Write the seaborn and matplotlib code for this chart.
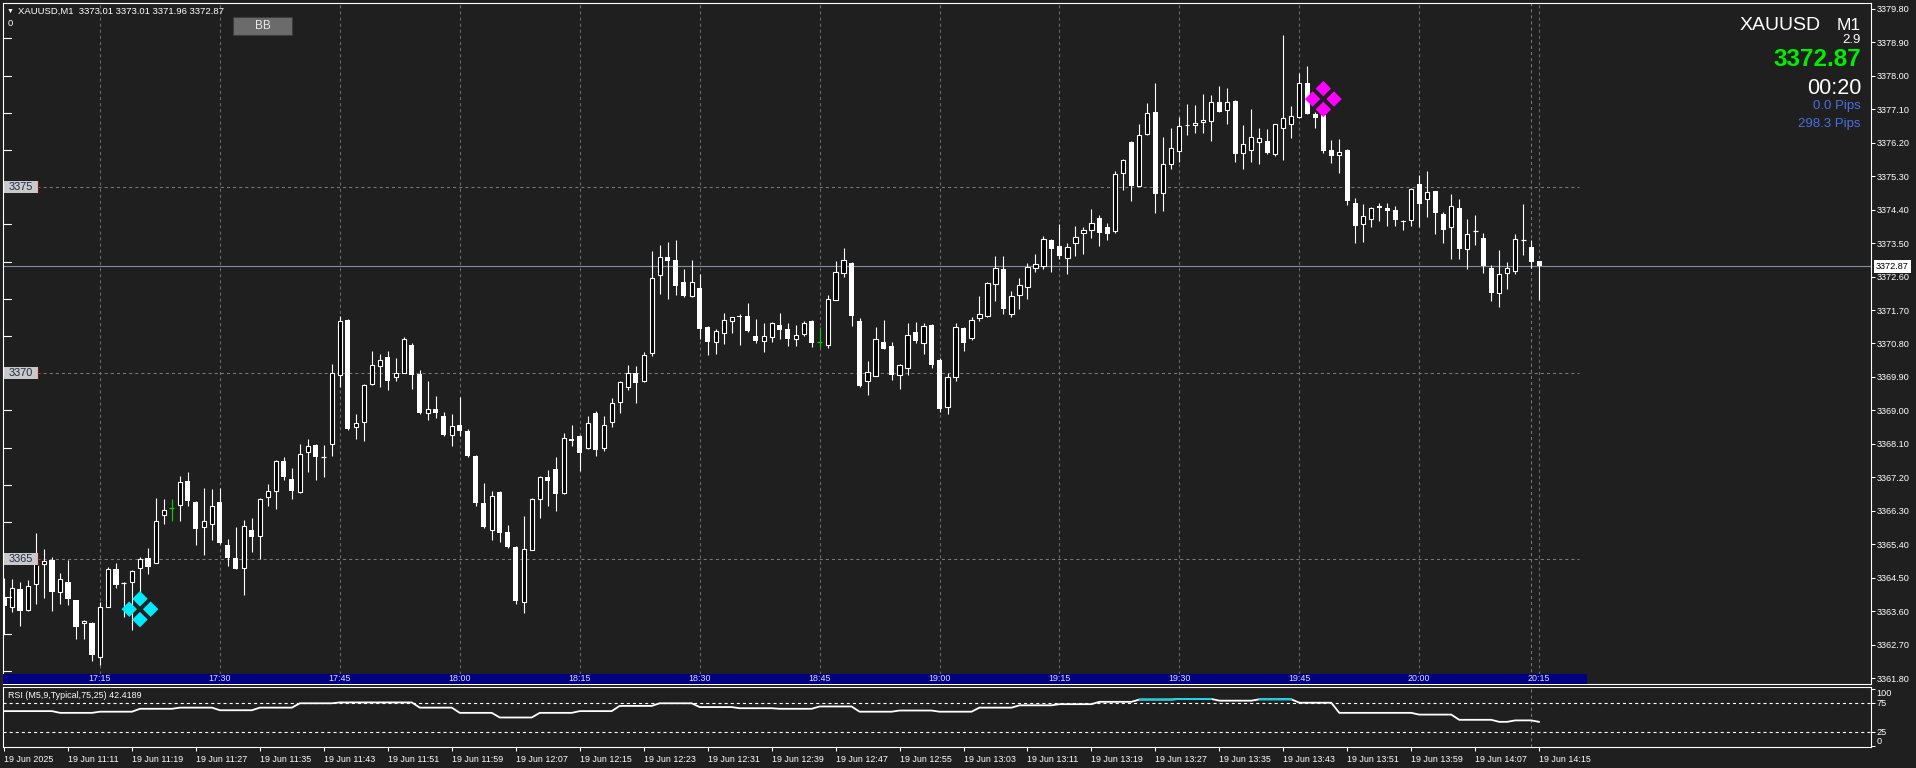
import numpy as np
import pandas as pd
import matplotlib
matplotlib.use("Agg")
import matplotlib.pyplot as plt
import seaborn as sns
from matplotlib.patches import Rectangle
from matplotlib import transforms

# ---------------- data ----------------
symbol = "XAUUSD"
timeframe = "M1"
first_bar = "2025-06-19 17:03"

opens = [
    3364.00, 3363.73, 3364.21, 3363.64, 3364.35, 3364.88, 3364.97, 3364.13, 3364.38, 3363.90,
    3363.28, 3363.30, 3362.37, 3363.73, 3364.73, 3364.37, 3364.40, 3364.78, 3365.04, 3364.91,
    3366.19, 3366.38, 3366.46, 3367.10, 3366.54, 3365.88, 3365.96, 3366.53, 3365.39, 3365.04,
    3364.78, 3365.79, 3365.63, 3366.68, 3366.83, 3367.64, 3367.16, 3366.80, 3367.88, 3368.07,
    3367.74, 3368.09, 3369.95, 3371.43, 3368.56, 3368.69, 3369.71, 3370.20, 3370.44, 3369.89,
    3370.02, 3370.76, 3369.98, 3368.93, 3369.05, 3368.86, 3368.34, 3368.62, 3368.46, 3367.79,
    3366.51, 3365.78, 3366.80, 3365.73, 3365.33, 3363.85, 3365.26, 3366.63, 3367.22, 3367.43,
    3366.78, 3368.24, 3368.32, 3367.99, 3368.94, 3367.99, 3368.69, 3369.22, 3369.64, 3370.00,
    3369.78, 3370.55, 3372.64, 3373.13, 3373.05, 3372.46, 3372.08, 3372.30, 3371.23, 3370.85,
    3371.09, 3371.41, 3371.55, 3371.54, 3371.00, 3370.88, 3370.98, 3371.29, 3371.19, 3370.93,
    3371.06, 3371.40, 3370.85, 3370.77, 3371.98, 3372.70, 3372.96, 3371.40, 3369.80, 3369.94,
    3370.84, 3370.73, 3369.96, 3370.13, 3371.10, 3370.82, 3371.31, 3370.36, 3369.10, 3369.90,
    3371.21, 3370.94, 3371.48, 3371.55, 3372.39, 3372.80, 3371.59, 3372.10, 3372.31, 3372.82,
    3372.89, 3373.58, 3373.42, 3373.09, 3373.49, 3373.76, 3373.84, 3374.17, 3373.92, 3373.81,
    3375.38, 3376.22, 3375.04, 3376.42, 3377.03, 3374.84, 3375.62, 3375.97, 3376.66, 3376.67,
    3376.75, 3376.77, 3377.28, 3377.07, 3377.32, 3375.91, 3375.99, 3376.21, 3376.25, 3375.88,
    3376.59, 3376.69, 3376.88, 3377.80, 3376.97, 3376.94, 3376.00, 3375.86, 3376.00, 3374.58,
    3374.01, 3374.14, 3374.49, 3374.44, 3374.38, 3374.09, 3374.13, 3375.09, 3374.68, 3374.89,
    3374.28, 3373.92, 3374.44, 3373.33, 3373.83, 3373.63, 3372.82, 3372.15, 3372.69, 3372.74,
    3373.59, 3373.39, 3373.01,
]
highs = [
    3364.51, 3364.46, 3364.38, 3364.44, 3365.71, 3365.29, 3365.07, 3364.64, 3364.97, 3363.92,
    3363.37, 3363.32, 3363.86, 3364.80, 3364.91, 3364.40, 3364.71, 3365.07, 3365.31, 3366.65,
    3366.63, 3366.61, 3367.25, 3367.35, 3366.56, 3366.92, 3366.89, 3366.92, 3365.54, 3365.88,
    3366.07, 3366.12, 3366.65, 3367.03, 3367.66, 3367.75, 3367.46, 3368.10, 3368.24, 3368.09,
    3368.06, 3370.25, 3371.53, 3371.45, 3368.91, 3369.71, 3370.60, 3370.53, 3370.61, 3370.41,
    3370.97, 3370.80, 3370.08, 3369.80, 3369.39, 3368.97, 3368.91, 3369.37, 3368.51, 3367.81,
    3367.04, 3366.83, 3366.83, 3365.92, 3365.35, 3366.17, 3366.65, 3367.24, 3367.39, 3367.75,
    3368.40, 3368.62, 3368.34, 3368.86, 3368.99, 3368.86, 3369.33, 3369.78, 3370.22, 3370.20,
    3370.56, 3373.28, 3373.46, 3373.52, 3373.59, 3372.81, 3373.05, 3372.68, 3371.27, 3371.18,
    3371.63, 3371.52, 3371.58, 3371.88, 3371.46, 3371.34, 3371.38, 3371.63, 3371.34, 3371.29,
    3371.40, 3371.42, 3371.24, 3372.09, 3373.01, 3373.36, 3372.98, 3371.49, 3370.33, 3371.25,
    3371.43, 3370.84, 3370.25, 3371.35, 3371.38, 3371.35, 3371.33, 3370.40, 3370.00, 3371.36,
    3371.25, 3371.52, 3372.08, 3372.46, 3373.15, 3373.15, 3372.20, 3372.57, 3372.97, 3373.21,
    3373.69, 3373.60, 3374.01, 3373.50, 3373.96, 3373.93, 3374.42, 3374.26, 3374.04, 3375.44,
    3375.75, 3376.24, 3376.70, 3377.27, 3377.81, 3376.35, 3376.59, 3376.88, 3377.24, 3377.21,
    3377.51, 3377.48, 3377.72, 3377.67, 3377.34, 3376.68, 3377.11, 3376.59, 3376.57, 3376.71,
    3379.10, 3377.19, 3378.06, 3378.26, 3377.03, 3376.96, 3376.27, 3376.30, 3376.02, 3374.70,
    3374.55, 3374.48, 3374.57, 3374.57, 3374.50, 3374.12, 3374.97, 3375.33, 3375.44, 3374.91,
    3374.33, 3374.82, 3374.68, 3374.14, 3374.25, 3373.76, 3372.91, 3373.32, 3372.98, 3373.74,
    3374.55, 3373.58, 3373.01,
]
lows = [
    3362.99, 3363.59, 3363.21, 3363.60, 3363.79, 3363.95, 3363.62, 3363.79, 3363.77, 3362.86,
    3362.86, 3362.28, 3362.16, 3363.71, 3364.24, 3363.46, 3363.11, 3364.11, 3364.60, 3364.89,
    3365.96, 3366.03, 3366.04, 3366.43, 3365.38, 3365.12, 3365.52, 3365.42, 3364.82, 3364.73,
    3364.04, 3365.20, 3365.02, 3366.43, 3366.34, 3367.14, 3366.61, 3366.78, 3367.34, 3367.12,
    3367.21, 3367.77, 3369.64, 3368.48, 3368.24, 3368.17, 3369.69, 3369.64, 3369.55, 3369.80,
    3370.00, 3369.59, 3368.90, 3368.75, 3368.81, 3368.31, 3368.04, 3368.31, 3367.75, 3366.43,
    3365.85, 3365.53, 3365.47, 3365.30, 3363.80, 3363.55, 3365.24, 3366.10, 3366.43, 3366.30,
    3366.76, 3368.04, 3367.37, 3367.97, 3367.77, 3367.91, 3368.55, 3368.93, 3369.54, 3369.21,
    3369.76, 3370.47, 3372.13, 3371.99, 3372.10, 3372.06, 3372.05, 3370.92, 3370.49, 3370.52,
    3370.79, 3371.09, 3370.76, 3371.11, 3370.82, 3370.57, 3370.84, 3370.92, 3370.73, 3370.73,
    3371.00, 3370.71, 3370.69, 3370.69, 3371.96, 3372.59, 3371.27, 3369.64, 3369.42, 3369.92,
    3370.64, 3369.82, 3369.58, 3369.96, 3370.82, 3370.52, 3370.15, 3368.95, 3368.90, 3369.80,
    3370.60, 3370.90, 3371.41, 3371.51, 3371.94, 3371.59, 3371.50, 3371.74, 3371.99, 3372.72,
    3372.81, 3372.73, 3373.08, 3372.67, 3373.16, 3373.21, 3373.64, 3373.42, 3373.58, 3373.78,
    3374.93, 3374.63, 3375.02, 3376.40, 3374.32, 3374.35, 3375.50, 3375.69, 3376.41, 3376.47,
    3376.47, 3376.25, 3377.01, 3376.71, 3375.69, 3375.50, 3375.69, 3375.63, 3375.89, 3375.84,
    3375.72, 3376.31, 3376.86, 3376.96, 3376.58, 3375.91, 3375.66, 3375.39, 3374.53, 3373.51,
    3373.54, 3373.94, 3374.08, 3373.97, 3373.97, 3373.85, 3373.97, 3373.92, 3374.21, 3373.73,
    3373.51, 3373.06, 3373.06, 3372.80, 3373.46, 3372.69, 3371.95, 3371.77, 3372.26, 3372.66,
    3373.18, 3372.82, 3371.96,
]
closes = [
    3363.75, 3364.24, 3363.62, 3364.29, 3364.94, 3364.96, 3364.13, 3364.46, 3363.93, 3363.19,
    3363.33, 3362.44, 3363.71, 3364.73, 3364.31, 3364.38, 3364.69, 3365.02, 3364.79, 3366.04,
    3366.33, 3366.38, 3367.08, 3366.56, 3365.81, 3366.04, 3366.44, 3365.44, 3365.04, 3364.75,
    3365.89, 3365.60, 3366.63, 3366.83, 3367.64, 3367.21, 3366.83, 3367.83, 3368.04, 3367.74,
    3367.75, 3370.00, 3371.40, 3368.51, 3368.66, 3369.69, 3370.21, 3370.35, 3369.78, 3370.00,
    3370.92, 3369.96, 3368.92, 3369.04, 3368.92, 3368.35, 3368.58, 3368.44, 3367.77, 3366.51,
    3365.87, 3366.71, 3365.71, 3365.34, 3363.87, 3365.29, 3366.63, 3367.22, 3367.10, 3366.75,
    3368.26, 3368.17, 3367.85, 3368.66, 3367.93, 3368.61, 3369.20, 3369.76, 3370.00, 3369.73,
    3370.48, 3372.57, 3373.13, 3373.02, 3372.35, 3372.08, 3372.44, 3371.20, 3370.85, 3371.13,
    3371.42, 3371.50, 3371.51, 3371.13, 3370.87, 3371.00, 3371.35, 3371.16, 3370.92, 3371.04,
    3371.35, 3370.82, 3370.85, 3371.99, 3372.71, 3373.05, 3371.54, 3369.67, 3370.03, 3370.91,
    3370.66, 3369.96, 3370.21, 3371.04, 3370.88, 3371.26, 3370.22, 3369.05, 3369.90, 3371.24,
    3370.80, 3371.43, 3371.59, 3372.42, 3372.82, 3371.74, 3372.07, 3372.37, 3372.85, 3372.93,
    3373.60, 3373.35, 3373.16, 3373.38, 3373.66, 3373.84, 3374.03, 3373.78, 3373.75, 3375.36,
    3375.73, 3375.04, 3376.40, 3376.99, 3374.81, 3375.62, 3376.05, 3376.64, 3376.68, 3376.72,
    3376.81, 3377.28, 3377.03, 3377.28, 3375.88, 3376.16, 3376.34, 3376.32, 3375.91, 3376.69,
    3376.85, 3376.91, 3377.80, 3376.98, 3376.87, 3375.98, 3375.85, 3375.94, 3374.64, 3373.97,
    3374.22, 3374.44, 3374.43, 3374.35, 3374.12, 3374.07, 3374.95, 3374.56, 3374.88, 3374.32,
    3373.84, 3374.49, 3373.35, 3373.74, 3373.84, 3372.89, 3372.15, 3372.66, 3372.82, 3373.60,
    3373.58, 3373.00, 3372.87,
]

# RSI(M5) as run-length: value held over number of M1 bars
rsi_values = [61, 58, 60, 65, 67, 62.5, 67, 74.5, 76, 76, 67, 58, 50, 58, 61, 70, 74.5, 68,
              66, 65, 69, 60, 62, 60, 67, 71, 73, 77, 81, 82, 79, 81.4, 75.5, 58, 55, 46,
              42.5, 45, 42.4]
rsi_runs = [7, 5, 5, 5, 5, 5, 5, 5, 5, 5, 5, 5, 5, 5, 5, 5, 5, 5,
            5, 5, 5, 5, 5, 5, 5, 5, 5, 5, 5, 5, 5, 5, 5, 10, 5, 5,
            2, 3, 1]
rsi_last = "42.4189"
rsi_levels = [75, 25]
rsi_ticks = [100, 75, 25, 0]

level_prices = [3375, 3370, 3365]
current_price = 3372.87
price_ticks = [3361.80, 3362.70, 3363.60, 3364.50, 3365.40, 3366.30, 3367.20, 3368.10,
               3369.00, 3369.90, 3370.80, 3371.70, 3372.60, 3373.50, 3374.40, 3375.30,
               3376.20, 3377.10, 3378.00, 3378.90, 3379.80]
grid_labels = ["17:15", "17:30", "17:45", "18:00", "18:15", "18:30", "18:45",
               "19:00", "19:15", "19:30", "19:45", "20:00", "20:15"]
server_labels = ["19 Jun 2025", "19 Jun 11:11", "19 Jun 11:19", "19 Jun 11:27", "19 Jun 11:35",
                 "19 Jun 11:43", "19 Jun 11:51", "19 Jun 11:59", "19 Jun 12:07", "19 Jun 12:15",
                 "19 Jun 12:23", "19 Jun 12:31", "19 Jun 12:39", "19 Jun 12:47", "19 Jun 12:55",
                 "19 Jun 13:03", "19 Jun 13:11", "19 Jun 13:19", "19 Jun 13:27", "19 Jun 13:35",
                 "19 Jun 13:43", "19 Jun 13:51", "19 Jun 13:59", "19 Jun 14:07", "19 Jun 14:15"]
signal_times = ["17:20", "19:48"]
signal_prices = [3363.66, 3377.37]
signal_colors = ["#00eaff", "#ff00ff"]
marker_line_time = "20:14"
spread = "2.9"
countdown = "00:20"
pips_lines = ["0.0 Pips", "298.3 Pips"]

# ---------------- style ----------------
BG = "#1f1f1f"
W, H = 1916, 768
sns.set_theme(style="dark", rc={"axes.facecolor": BG, "figure.facecolor": BG,
                                "axes.edgecolor": "white", "lines.scale_dashes": False})
plt.rcParams["font.family"] = ["Liberation Sans", "DejaVu Sans"]
DASH = (0, (2.2, 2.2))

fig = plt.figure(figsize=(W / 100, H / 100), dpi=100, facecolor=BG)
ax = fig.add_axes([3 / W, 1 - 684 / H, 1868 / W, 681 / H])
axr = fig.add_axes([3 / W, 1 - 747 / H, 1868 / W, 60 / H])
for a in (ax, axr):
    a.set_facecolor(BG)
    a.grid(False)
    for s in a.spines.values():
        s.set_color("white")
        s.set_linewidth(0.8)

O = np.array(opens); Hh = np.array(highs); L = np.array(lows); C = np.array(closes)
n = len(O)
idx = np.arange(n)
bar_times = pd.date_range(first_bar, periods=n, freq="min")
day = bar_times[0].strftime("%Y-%m-%d")


def pos(t):
    return int((pd.Timestamp(f"{day} {t}") - bar_times[0]) / pd.Timedelta("1min"))


XLIM = (-0.13, 233.5)
YLIM = (3361.65, 3379.95)

# ---- candles ----
flat = O == C
tiny = np.abs(C - O) < 0.015
bull = (C > O) & ~tiny
bear = (C < O) & ~tiny
wick_cols = np.where(flat, "#00d400", "white")
ax.vlines(idx, L, Hh, colors=wick_cols, lw=0.8, zorder=3)
ax.bar(idx[bull], (C - O)[bull], bottom=O[bull], width=0.52, facecolor="black",
       edgecolor="white", linewidth=0.8, zorder=4)
ax.bar(idx[bear], (O - C)[bear], bottom=C[bear], width=0.64, color="white",
       linewidth=0, zorder=4)
ax.hlines(O[tiny], idx[tiny] - 0.31, idx[tiny] + 0.31, colors=wick_cols[tiny], lw=0.9, zorder=4)

# ---- grid / lines ----
for t in grid_labels:
    ax.axvline(pos(t), ymin=0.015, ymax=1, color="#6c6c6c", lw=0.75, ls=DASH, zorder=1)
ax.axvline(pos(marker_line_time), color="#7a7a7a", lw=0.75, ls=DASH, zorder=1)
axr.axvline(pos(marker_line_time), color="#7a7a7a", lw=0.75, ls=DASH, zorder=1)
ax.axhline(current_price, color="#7d8a99", lw=0.85, zorder=2)

blend = transforms.blended_transform_factory(ax.transAxes, ax.transData)
box_w = 34 / 1868
for p in level_prices:
    ax.hlines(p, (37 - 4.06) / 7.995, 197, colors="#7a7a7a", lw=0.75, linestyles=DASH, zorder=1)
    ax.add_patch(Rectangle((0.0005, p - 0.16), box_w, 0.32, transform=blend,
                           facecolor="#c9c9c9", edgecolor="none", zorder=6))
    ax.plot([box_w + 0.0005] * 2, [p - 0.16, p + 0.16], transform=blend,
            color="#7a1010", lw=0.8, zorder=6)
    ax.text(box_w / 2 + 0.0005, p, f"{p}", transform=blend, ha="center", va="center",
            fontsize=7.8, color="#1e2a44", zorder=7)

for p in range(int(np.ceil(YLIM[0])), int(YLIM[1]) + 1):
    if p % 5:
        ax.plot([0, 8 / 1868], [p, p], transform=blend, color="white", lw=0.8, zorder=6)

# navy time bar
xt = ax.get_xaxis_transform()
ax.add_patch(Rectangle((XLIM[0], 0), 198 - XLIM[0], 0.0147, transform=xt,
                       facecolor="#000080", edgecolor="none", zorder=8))
for t in grid_labels:
    ax.text(pos(t), 0.0074, t, transform=xt, ha="center", va="center",
            fontsize=6.4, color="#dcdcf0", zorder=9)

# ---- signal diamonds ----
offsets = [(0, 7.5), (-7.7, 0), (7.7, 0), (0, -7.5)]
for t, p, col in zip(signal_times, signal_prices, signal_colors):
    for dx, dy in offsets:
        tr = transforms.offset_copy(ax.transData, fig=fig, x=dx, y=dy, units="points")
        ax.scatter([pos(t)], [p], marker="D", s=62, color=col, edgecolors="none",
                   transform=tr, zorder=7)

# ---- main axis ticks ----
ax.set_xlim(*XLIM)
ax.set_ylim(*YLIM)
ax.set_xticks([])
ax.yaxis.tick_right()
ax.set_yticks(price_ticks)
ax.set_yticklabels([f"{v:.2f}" for v in price_ticks])
ax.tick_params(axis="y", colors="white", length=3, width=0.75, labelsize=6.6, pad=1.2,
               labelcolor="white")
ax.text((1876 - 3) / 1868, current_price, f"{current_price:.2f}", transform=blend,
        ha="left", va="center", fontsize=6.6, color="black", zorder=10, clip_on=False,
        bbox=dict(boxstyle="square,pad=0.18", facecolor="white", edgecolor="none"))

# ---- RSI panel ----
rsi = np.repeat(rsi_values, rsi_runs).astype(float)
sns.lineplot(x=idx, y=rsi, ax=axr, color="white", linewidth=1.3, estimator=None, sort=False)
axr.plot(idx, np.where(rsi > 80, rsi, np.nan), color="#00d8e8", lw=1.3, zorder=3)
for lv in rsi_levels:
    axr.axhline(lv, color="white", lw=0.8, ls=DASH, zorder=1)
axr.set_xlabel("")
axr.set_ylabel("")
axr.set_xlim(*XLIM)
axr.set_ylim(-0.9, 102.6)
axr.yaxis.tick_right()
axr.set_yticks(rsi_ticks)
axr.set_yticklabels([str(v) for v in rsi_ticks])
axr.tick_params(axis="y", colors="white", length=3, width=0.75, labelsize=6.6, pad=1.2)
yl = axr.get_yticklabels()
yl[0].set_va("top")
yl[-1].set_va("bottom")
axr.set_xticks(np.arange(len(server_labels)) * 8)
axr.set_xticklabels(server_labels, ha="left")
axr.tick_params(axis="x", colors="white", length=3, width=0.75, labelsize=6.4, pad=2.5,
                bottom=True)
axr.text(5 / 1868, 0.86, f"RSI (M5,9,Typical,75,25) {rsi_last}", transform=axr.transAxes,
         ha="left", va="center", fontsize=6.4, color="white")

# ---- header & info texts ----
def ftxt(x, y, s, **kw):
    fig.text(x / W, 1 - y / H, s, **kw)


ftxt(10, 11, "\u25BC", fontsize=5, color="white", ha="center", va="center")
ftxt(18, 11, f"{symbol},{timeframe}  {O[-1]:.2f} {Hh[-1]:.2f} {L[-1]:.2f} {C[-1]:.2f}",
     fontsize=6.8, color="white", ha="left", va="center")
ftxt(8, 24, "0", fontsize=6.8, color="white", ha="left", va="center")
fig.patches.append(Rectangle((233 / W, 1 - 35 / H), 59 / W, 18 / H, transform=fig.transFigure,
                             facecolor="#6b6b6b", edgecolor="#3c3c3c", lw=0.8, zorder=5))
ftxt(262.5, 26, "BB", fontsize=8.5, color="#e8e8e8", ha="center", va="center", zorder=6)

ftxt(1821, 26, symbol, fontsize=14, color="white", ha="right", va="center")
ftxt(1861, 26, timeframe, fontsize=12.5, color="white", ha="right", va="center")
ftxt(1861, 40, spread, fontsize=9.5, color="white", ha="right", va="center")
ftxt(1861, 59, f"{C[-1]:.2f}", fontsize=17.5, fontweight="bold", color="#00ee00",
     ha="right", va="center")
ftxt(1861, 88, countdown, fontsize=15.5, color="white", ha="right", va="center")
ftxt(1861, 106, pips_lines[0], fontsize=9.5, color="#4a6fe0", ha="right", va="center")
ftxt(1861, 124, pips_lines[1], fontsize=9.5, color="#4a6fe0", ha="right", va="center")

fig.savefig("out.png", dpi=100, facecolor=BG)
